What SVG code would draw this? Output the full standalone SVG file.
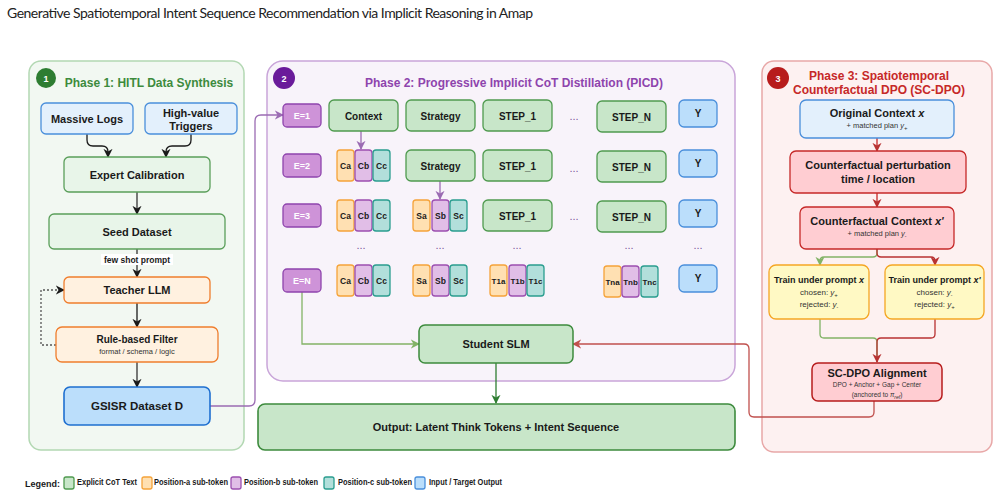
<svg xmlns="http://www.w3.org/2000/svg" width="999" height="496" viewBox="0 0 999 496">
<defs>
<style>
text{font-family:"Liberation Sans",Arial,sans-serif;text-anchor:middle;fill:#1a1a1a}
.b{font-weight:bold}
.t11{font-size:11px;font-weight:bold}
.t10{font-size:10px;font-weight:bold}
.t9{font-size:9px;font-weight:bold}
.sm{font-size:8px;fill:#333}
.xs{font-size:7.5px;fill:#333}
.panel{stroke-width:1.5}
.blue{fill:#e3f0fc;stroke:#4a8fdb;stroke-width:1.3}
.gn{fill:#e8f5e9;stroke:#5a9e5a;stroke-width:1.3}
.or{fill:#fff1e0;stroke:#ef7d2d;stroke-width:1.3}
.ds{fill:#bbdefb;stroke:#1e6fd0;stroke-width:1.6}
.ebox{fill:#ce93d8;stroke:#8e44ad;stroke-width:1.3}
.etx{font-size:9px;font-weight:bold;fill:#fff}
.tok{fill:#c8e6c9;stroke:#4f9a4f;stroke-width:1.3}
.y{fill:#bbdefb;stroke:#4a8fdb;stroke-width:1.3}
.sa{fill:#ffe0b2;stroke:#f5a33a;stroke-width:1.3}
.sb{fill:#e1bee7;stroke:#9c4fb0;stroke-width:1.3}
.sc{fill:#b2dfdb;stroke:#2a9d8f;stroke-width:1.3}
.st{font-size:8.5px;font-weight:bold}
.st2{font-size:8px;font-weight:bold}
.dots{font-size:11px;fill:#7b5a9a}
.pk{fill:#ffcdd2;stroke:#c62828;stroke-width:1.3}
.yl{fill:#fff9c4;stroke:#f5a623;stroke-width:1.3}
.c{fill:none;stroke-width:1.3}
.lg{font-size:8.5px;font-weight:bold;text-anchor:start}
</style>
<marker id="ak" viewBox="0 0 10 10" refX="9" refY="5" markerWidth="7" markerHeight="7" orient="auto"><path d="M0,0 L10,5 L0,10 L3,5 z" fill="#1a1a1a"/></marker>
<marker id="ap" viewBox="0 0 10 10" refX="9" refY="5" markerWidth="7" markerHeight="7" orient="auto"><path d="M0,0 L10,5 L0,10 L3,5 z" fill="#9b6bb3"/></marker>
<marker id="alg" viewBox="0 0 10 10" refX="9" refY="5" markerWidth="7" markerHeight="7" orient="auto"><path d="M0,0 L10,5 L0,10 L3,5 z" fill="#82b366"/></marker>
<marker id="adg" viewBox="0 0 10 10" refX="9" refY="5" markerWidth="7" markerHeight="7" orient="auto"><path d="M0,0 L10,5 L0,10 L3,5 z" fill="#2e7d32"/></marker>
<marker id="ar" viewBox="0 0 10 10" refX="9" refY="5" markerWidth="7" markerHeight="7" orient="auto"><path d="M0,0 L10,5 L0,10 L3,5 z" fill="#b83232"/></marker>
<marker id="arl" viewBox="0 0 10 10" refX="9" refY="5" markerWidth="7" markerHeight="7" orient="auto"><path d="M0,0 L10,5 L0,10 L3,5 z" fill="#c0504d"/></marker>
</defs>
<rect width="999" height="496" fill="#ffffff"/>
<text x="7" y="18" style="font-family:Lato,'Open Sans',sans-serif;font-size:14px;text-anchor:start;fill:#222" textLength="526">Generative Spatiotemporal Intent Sequence Recommendation via Implicit Reasoning in Amap</text>

<!-- Panels -->
<g id="phase1">
<rect x="29" y="61" width="215" height="389" rx="12" fill="#f2f8f2" stroke="#b3d8b3" class="panel"/>
<circle cx="46" cy="78" r="10" fill="#2e7d32"/>
<text x="46" y="81.5" class="t9" style="fill:#fff;font-size:9px">1</text>
<text x="149" y="87" class="b" style="font-size:12px;fill:#3d8b3d">Phase 1: HITL Data Synthesis</text>
</g>
<g id="phase2">
<rect x="267" y="61" width="468" height="320" rx="16" fill="#f8f3fa" stroke="#c9a5d9" class="panel"/>
<circle cx="284" cy="78" r="11" fill="#6a1b9a"/>
<text x="284" y="81.5" style="fill:#fff;font-size:9px" class="b">2</text>
<text x="514" y="87" class="b" style="font-size:12px;fill:#8e44ad">Phase 2: Progressive Implicit CoT Distillation (PICD)</text>
</g>
<g id="phase3">
<rect x="762" y="61" width="230" height="391" rx="12" fill="#fdf1f1" stroke="#e8a8a8" class="panel"/>
<circle cx="778" cy="78" r="11" fill="#b71c1c"/>
<text x="778" y="81.5" style="fill:#fff;font-size:9px" class="b">3</text>
<text x="879" y="80" class="b" style="font-size:12px;fill:#c62828">Phase 3: Spatiotemporal</text>
<text x="879" y="94" class="b" style="font-size:12px;fill:#c62828">Counterfactual DPO (SC-DPO)</text>
</g>

<!-- Connectors -->
<g id="connectors">
<path class="c" stroke="#1a1a1a" d="M87,134 V140 Q87,146 93,146 H102 Q108,146 108,152 V157" marker-end="url(#ak)"/>
<path class="c" stroke="#1a1a1a" d="M191,134 V140 Q191,146 185,146 H172 Q166,146 166,152 V157" marker-end="url(#ak)"/>
<path class="c" stroke="#333" d="M137,192 V214" marker-end="url(#ak)"/>
<path class="c" stroke="#333" d="M137,249 V277" marker-end="url(#ak)"/>
<path class="c" stroke="#1a1a1a" stroke-width="1.6" d="M137,303 V327" marker-end="url(#ak)"/>
<path class="c" stroke="#333" d="M137,362 V387" marker-end="url(#ak)"/>
<path class="c" stroke="#555" stroke-dasharray="2,2" d="M56,345 H41 V290 H64" marker-end="url(#ak)"/>
<path class="c" stroke="#9b6bb3" d="M210,406 H249 Q255,406 255,400 V121 Q255,115 261,115 H283" marker-end="url(#ap)"/>
<path class="c" stroke="#9b6bb3" d="M361,131 V149" marker-end="url(#ap)"/>
<path class="c" stroke="#9b6bb3" d="M440,181 V199" marker-end="url(#ap)"/>
<path class="c" stroke="#82b366" d="M302,292 V344 H419" marker-end="url(#alg)"/>
<path class="c" stroke="#2e7d32" stroke-width="1.6" d="M496,363 V403" marker-end="url(#adg)"/>
<path class="c" stroke="#c0504d" d="M874,401 V412 Q874,417 869,417 H754 Q749,417 749,412 V349 Q749,344 744,344 H573" marker-end="url(#arl)"/>
<path class="c" stroke="#c62828" d="M877,138 V151" marker-end="url(#ar)"/>
<path class="c" stroke="#c62828" d="M877,193 V207" marker-end="url(#ar)"/>
<path class="c" stroke="#82b366" d="M877,249 V253 Q877,257 873,257 H824 Q820,257 820,261 V265" marker-end="url(#alg)"/>
<path class="c" stroke="#b83232" d="M877,249 V253 Q877,257 881,257 H931 Q935,257 935,261 V265" marker-end="url(#ar)"/>
<path class="c" stroke="#82b366" d="M820,319 V334 Q820,338 824,338 H873 Q877,338 877,342 V362"/>
<path class="c" stroke="#b83232" d="M935,319 V334 Q935,338 931,338 H881 Q877,338 877,342 V362" marker-end="url(#ar)"/>
</g>

<!-- Phase 1 nodes -->
<g id="massive-logs"><rect x="41" y="103" width="92" height="31" rx="5" class="blue"/><text x="87" y="123" class="t11">Massive Logs</text></g>
<g id="high-value"><rect x="145" y="103" width="92" height="31" rx="5" class="blue"/><text x="191" y="117" class="t11">High-value</text><text x="191" y="130" class="t11">Triggers</text></g>
<g id="expert"><rect x="64" y="157" width="146" height="35" rx="5" class="gn"/><text x="137" y="179" class="t11">Expert Calibration</text></g>
<g id="seed"><rect x="49" y="214" width="176" height="35" rx="5" class="gn"/><text x="137" y="236" class="t11">Seed Dataset</text></g>
<g id="fewshot"><rect x="101" y="254" width="72" height="11" fill="#ffffff"/><text x="137" y="263" class="b" style="font-size:8.5px">few shot prompt</text></g>
<g id="teacher"><rect x="64" y="277" width="146" height="26" rx="5" class="or"/><text x="137" y="294" class="t11">Teacher LLM</text></g>
<g id="filter"><rect x="56" y="327" width="162" height="35" rx="6" class="or"/><text x="137" y="343" class="t10">Rule-based Filter</text><text x="137" y="354" class="xs">format / schema / logic</text></g>
<g id="gsisr"><rect x="64" y="387" width="146" height="38" rx="6" class="ds"/><text x="137" y="410" class="b" style="font-size:11.5px">GSISR Dataset D</text></g>

<!-- Phase 2 rows -->
<g id="e1"><rect x="283" y="104" width="38" height="23" rx="4" class="ebox"/><text x="302" y="119" class="etx">E=1</text></g>
<g id="e2"><rect x="283" y="154" width="38" height="23" rx="4" class="ebox"/><text x="302" y="169" class="etx">E=2</text></g>
<g id="e3"><rect x="283" y="204" width="38" height="23" rx="4" class="ebox"/><text x="302" y="219" class="etx">E=3</text></g>
<g id="en"><rect x="283" y="269" width="38" height="23" rx="4" class="ebox"/><text x="302" y="284" class="etx">E=N</text></g>

<g id="row1">
<rect x="329" y="100" width="69" height="31" rx="5" class="tok"/><text x="363.5" y="119.5" class="t10">Context</text>
<rect x="406" y="100" width="69" height="31" rx="5" class="tok"/><text x="440.5" y="119.5" class="t10">Strategy</text>
<rect x="483" y="100" width="69" height="31" rx="5" class="tok"/><text x="517.5" y="119.5" class="t10">STEP_1</text>
<text x="574" y="120" class="dots">...</text>
<rect x="597" y="101" width="69" height="31" rx="5" class="tok"/><text x="631.5" y="120.5" class="t10">STEP_N</text>
<rect x="679" y="100" width="38" height="27" rx="5" class="y"/><text x="698" y="117" class="t10">Y</text>
</g>
<g id="row2">
<rect x="337" y="150" width="17" height="31" rx="3" class="sa"/><text x="345.5" y="169" class="st">Ca</text>
<rect x="355" y="150" width="17" height="31" rx="3" class="sb"/><text x="363.5" y="169" class="st">Cb</text>
<rect x="373" y="150" width="17" height="31" rx="3" class="sc"/><text x="381.5" y="169" class="st">Cc</text>
<rect x="406" y="150" width="69" height="31" rx="5" class="tok"/><text x="440.5" y="169.5" class="t10">Strategy</text>
<rect x="483" y="150" width="69" height="31" rx="5" class="tok"/><text x="517.5" y="169.5" class="t10">STEP_1</text>
<text x="574" y="172" class="dots">...</text>
<rect x="597" y="151" width="69" height="31" rx="5" class="tok"/><text x="631.5" y="170.5" class="t10">STEP_N</text>
<rect x="679" y="150" width="38" height="27" rx="5" class="y"/><text x="698" y="167" class="t10">Y</text>
</g>
<g id="row3">
<rect x="337" y="200" width="17" height="31" rx="3" class="sa"/><text x="345.5" y="219" class="st">Ca</text>
<rect x="355" y="200" width="17" height="31" rx="3" class="sb"/><text x="363.5" y="219" class="st">Cb</text>
<rect x="373" y="200" width="17" height="31" rx="3" class="sc"/><text x="381.5" y="219" class="st">Cc</text>
<rect x="413" y="200" width="17" height="31" rx="3" class="sa"/><text x="421.5" y="219" class="st">Sa</text>
<rect x="432" y="200" width="17" height="31" rx="3" class="sb"/><text x="440.5" y="219" class="st">Sb</text>
<rect x="450" y="200" width="17" height="31" rx="3" class="sc"/><text x="458.5" y="219" class="st">Sc</text>
<rect x="483" y="200" width="69" height="31" rx="5" class="tok"/><text x="517.5" y="219.5" class="t10">STEP_1</text>
<text x="574" y="220" class="dots">...</text>
<rect x="597" y="201" width="69" height="31" rx="5" class="tok"/><text x="631.5" y="220.5" class="t10">STEP_N</text>
<rect x="679" y="200" width="38" height="27" rx="5" class="y"/><text x="698" y="217" class="t10">Y</text>
</g>
<g id="row-dots">
<text x="361" y="249" class="dots">...</text>
<text x="440" y="249" class="dots">...</text>
<text x="517" y="249" class="dots">...</text>
<text x="629" y="249" class="dots">...</text>
<text x="698" y="249" class="dots">...</text>
</g>
<g id="rowN">
<rect x="337" y="265" width="17" height="31" rx="3" class="sa"/><text x="345.5" y="284" class="st">Ca</text>
<rect x="355" y="265" width="17" height="31" rx="3" class="sb"/><text x="363.5" y="284" class="st">Cb</text>
<rect x="373" y="265" width="17" height="31" rx="3" class="sc"/><text x="381.5" y="284" class="st">Cc</text>
<rect x="413" y="265" width="17" height="31" rx="3" class="sa"/><text x="421.5" y="284" class="st">Sa</text>
<rect x="432" y="265" width="17" height="31" rx="3" class="sb"/><text x="440.5" y="284" class="st">Sb</text>
<rect x="450" y="265" width="17" height="31" rx="3" class="sc"/><text x="458.5" y="284" class="st">Sc</text>
<rect x="490" y="265" width="17" height="31" rx="3" class="sa"/><text x="498.5" y="284" class="st2">T1a</text>
<rect x="509" y="265" width="17" height="31" rx="3" class="sb"/><text x="517.5" y="284" class="st2">T1b</text>
<rect x="527" y="265" width="17" height="31" rx="3" class="sc"/><text x="535.5" y="284" class="st2">T1c</text>
<rect x="604" y="266" width="17" height="31" rx="3" class="sa"/><text x="612.5" y="285" class="st2">Tna</text>
<rect x="622" y="266" width="17" height="31" rx="3" class="sb"/><text x="630.5" y="285" class="st2">Tnb</text>
<rect x="641" y="266" width="17" height="31" rx="3" class="sc"/><text x="649.5" y="285" class="st2">Tnc</text>
<rect x="679" y="265" width="38" height="27" rx="5" class="y"/><text x="698" y="282" class="t10">Y</text>
</g>
<g id="student"><rect x="419" y="325" width="154" height="38" rx="6" class="tok" style="stroke:#3d8b3d;stroke-width:1.5"/><text x="496" y="348" class="t11">Student SLM</text></g>
<g id="output"><rect x="258" y="404" width="477" height="46" rx="7" class="tok" style="stroke:#3d8b3d;stroke-width:1.6"/><text x="496" y="431" class="t11">Output: Latent Think Tokens + Intent Sequence</text></g>

<!-- Phase 3 nodes -->
<g id="orig"><rect x="800" y="100" width="154" height="38" rx="6" class="blue"/><text x="877" y="117" class="t11">Original Context <tspan font-style="italic">x</tspan></text><text x="877" y="128" class="xs">+ matched plan <tspan font-style="italic">y</tspan><tspan font-size="6" dy="2">+</tspan></text></g>
<g id="perturb"><rect x="790" y="151" width="176" height="42" rx="6" class="pk"/><text x="878" y="169" class="t11">Counterfactual perturbation</text><text x="878" y="183" class="t11">time / location</text></g>
<g id="cfctx"><rect x="800" y="207" width="154" height="42" rx="6" class="pk"/><text x="877" y="225" class="t11">Counterfactual Context <tspan font-style="italic">x'</tspan></text><text x="877" y="236" class="xs">+ matched plan <tspan font-style="italic">y</tspan><tspan font-size="5" dy="2">-</tspan></text></g>
<g id="train-x"><rect x="769" y="265" width="100" height="54" rx="7" class="yl"/><text x="819" y="283" class="t9">Train under prompt <tspan font-style="italic">x</tspan></text><text x="819" y="295" class="xs" style="font-size:8px">chosen: <tspan font-style="italic">y</tspan><tspan font-size="6" dy="2">+</tspan></text><text x="819" y="307" class="xs" style="font-size:8px">rejected: <tspan font-style="italic">y</tspan><tspan font-size="5" dy="2">-</tspan></text></g>
<g id="train-xp"><rect x="885" y="265" width="99" height="54" rx="7" class="yl"/><text x="934.5" y="283" class="t9">Train under prompt <tspan font-style="italic">x'</tspan></text><text x="934.5" y="295" class="xs" style="font-size:8px">chosen: <tspan font-style="italic">y</tspan><tspan font-size="5" dy="2">-</tspan></text><text x="934.5" y="307" class="xs" style="font-size:8px">rejected: <tspan font-style="italic">y</tspan><tspan font-size="6" dy="2">+</tspan></text></g>
<g id="scdpo"><rect x="812" y="363" width="130" height="38" rx="6" class="pk" style="stroke:#b71c1c;stroke-width:1.5"/><text x="877" y="377" class="t11">SC-DPO Alignment</text><text x="877" y="387" style="font-size:6.5px;fill:#333">DPO + Anchor + Gap + Center</text><text x="877" y="397" style="font-size:6.5px;fill:#333">(anchored to <tspan font-style="italic">π</tspan><tspan font-size="5" dy="1.5" font-style="italic">ref</tspan><tspan dy="-1.5">)</tspan></text></g>

<!-- Legend -->
<g id="legend">
<text x="25" y="487" class="b" style="font-size:9px;text-anchor:start">Legend:</text>
<rect x="64" y="477" width="10" height="12" rx="2" class="tok"/><text x="77" y="485" class="lg" textLength="60" lengthAdjust="spacingAndGlyphs">Explicit CoT Text</text>
<rect x="142" y="477" width="10" height="12" rx="2" class="sa"/><text x="154" y="485" class="lg" textLength="74" lengthAdjust="spacingAndGlyphs">Position-a sub-token</text>
<rect x="231" y="477" width="10" height="12" rx="2" class="sb"/><text x="244" y="485" class="lg" textLength="74" lengthAdjust="spacingAndGlyphs">Position-b sub-token</text>
<rect x="324" y="477" width="10" height="12" rx="2" class="sc"/><text x="338" y="485" class="lg" textLength="74" lengthAdjust="spacingAndGlyphs">Position-c sub-token</text>
<rect x="415" y="477" width="10" height="12" rx="2" class="y"/><text x="429" y="485" class="lg" textLength="73" lengthAdjust="spacingAndGlyphs">Input / Target Output</text>
</g>
</svg>
